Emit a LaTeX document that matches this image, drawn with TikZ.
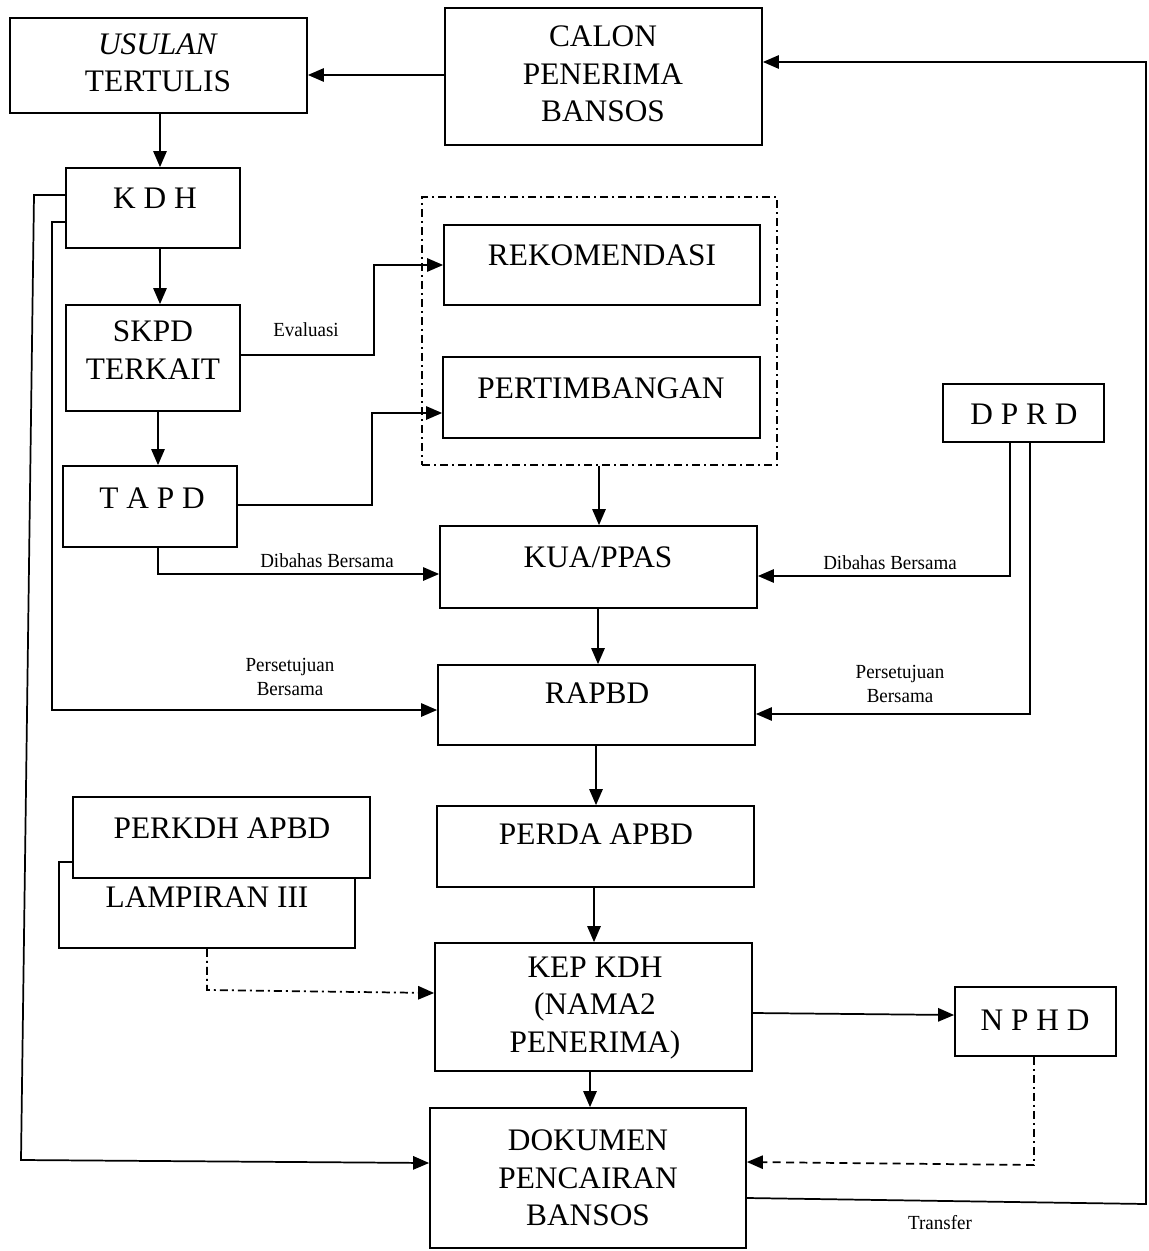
\documentclass[tikz,border=0pt]{standalone}
\usepackage{fontspec}
\setmainfont{Liberation Serif}
\newfontfamily\narrowfont[FakeStretch=0.95]{Liberation Serif}
\usetikzlibrary{arrows.meta,fit}
\begin{document}
\begin{tikzpicture}[x=0.75pt,y=-0.75pt,
  box/.style={draw,line width=1.3pt,inner sep=0pt,fill=white},
  txt/.style={font=\fontsize{23.5}{28}\selectfont,align=center,inner sep=0pt},
  lbl/.style={font=\narrowfont\fontsize{15}{18}\selectfont,align=center,inner sep=0pt},
  conn/.style={line width=1.3pt},
  arr/.style={conn,-{Triangle[length=12pt,width=10pt]}},
  dashdot/.style={line width=1.3pt,dash pattern=on 6pt off 3pt on 1.5pt off 3pt},
  dsh/.style={line width=1.3pt,dash pattern=on 6pt off 4pt}]
\useasboundingbox[fill=white] (0,0) rectangle (1148,1251);

% boxes
\node[box,fit={(10,18) (307,113)}] (usulan) {};
\node[box,fit={(445,8) (762,145)}] (calon) {};
\node[box,fit={(66,168) (240,248)}] (kdh) {};
\node[box,fit={(66,305) (240,411)}] (skpd) {};
\node[box,fit={(63,466) (237,547)}] (tapd) {};
\node[draw,dashdot,inner sep=0pt,fit={(422,197) (777,465)}] (group) {};
\node[box,fit={(444,225) (760,305)}] (rek) {};
\node[box,fit={(443,357) (760,438)}] (pert) {};
\node[box,fit={(943,384) (1104,442)}] (dprd) {};
\node[box,fit={(440,526) (757,608)}] (kua) {};
\node[box,fit={(438,665) (755,745)}] (rapbd) {};
\node[box,fit={(437,806) (754,887)}] (perda) {};
\node[box,fit={(59,862) (355,948)}] (lamp) {};
\node[box,fit={(73,797) (370,878)}] (perkdh) {};
\node[box,fit={(435,943) (752,1071)}] (kep) {};
\node[box,fit={(955,987) (1116,1056)}] (nphd) {};
\node[box,fit={(430,1108) (746,1248)}] (dok) {};

% texts
\node[txt] (usulan-t) at (158,63) {\textit{USULAN}\\TERTULIS};
\node[txt] (calon-t) at (603,74) {CALON\\PENERIMA\\BANSOS};
\node[txt] (kdh-t) at (155,198) {K D H};
\node[txt] (skpd-t) at (153,350) {SKPD\\TERKAIT};
\node[txt] (tapd-t) at (152,498) {T A P D};
\node[txt] (rek-t) at (602,255) {REKOMENDASI};
\node[txt] (pert-t) at (601,388) {PERTIMBANGAN};
\node[txt] (dprd-t) at (1024,414) {D P R D};
\node[txt] (kua-t) at (598,557) {KUA/PPAS};
\node[txt] (rapbd-t) at (597,693) {RAPBD};
\node[txt] (perda-t) at (596,834) {PERDA APBD};
\node[txt] (perkdh-t) at (222,828) {PERKDH APBD};
\node[txt] (lamp-t) at (207,897) {LAMPIRAN III};
\node[txt] (kep-t) at (595,1008) {KEP KDH\\(NAMA2\\PENERIMA)};
\node[txt] (nphd-t) at (1035,1020) {N P H D};
\node[txt] (dok-t) at (588,1178) {DOKUMEN\\PENCAIRAN\\BANSOS};

% labels
\node[lbl] (l-eval) at (306,330) {Evaluasi};
\node[lbl] (l-dib1) at (327,561) {Dibahas Bersama};
\node[lbl] (l-dib2) at (890,563) {Dibahas Bersama};
\node[lbl] (l-per1) at (290,677) {Persetujuan\\Bersama};
\node[lbl] (l-per2) at (900,684) {Persetujuan\\Bersama};
\node[lbl] (l-trans) at (940,1223) {Transfer};

% connectors
\draw[arr] (calon.west |- 0,75) -- (usulan.east |- 0,75);
\draw[arr] (usulan.south -| 160,0) -- (kdh.north -| 160,0);
\draw[arr] (kdh.south -| 160,0) -- (skpd.north -| 160,0);
\draw[arr] (skpd.south -| 158,0) -- (tapd.north -| 158,0);
\draw[arr] (skpd.east |- 0,355) -- (374,355) -- (374,265) -- (rek.west |- 0,265);
\draw[arr] (tapd.east |- 0,505) -- (372,505) -- (372,413) -- (pert.west |- 0,413);
\draw[arr] (group.south -| 599,0) -- (kua.north -| 599,0);
\draw[arr] (tapd.south -| 158,0) -- (158,574) -- (kua.west |- 0,574);
\draw[arr] (dprd.south -| 1010,0) -- (1010,576) -- (kua.east |- 0,576);
\draw[arr] (dprd.south -| 1030,0) -- (1030,714) -- (rapbd.east |- 0,714);
\draw[arr] (kua.south -| 598,0) -- (rapbd.north -| 598,0);
\draw[arr] (kdh.west |- 0,222) -- (52,222) -- (52,710) -- (rapbd.west |- 0,710);
\draw[arr] (kdh.west |- 0,195) -- (34,195) -- (21,1160) -- (dok.west |- 0,1163);
\draw[arr] (rapbd.south -| 596,0) -- (perda.north -| 596,0);
\draw[arr] (perda.south -| 594,0) -- (kep.north -| 594,0);
\draw[dashdot,-{Triangle[length=12pt,width=10pt]}] (lamp.south -| 207,0) -- (207,990) -- (kep.west |- 0,993);
\draw[arr] (kep.east |- 0,1013) -- (nphd.west |- 0,1015);
\draw[arr] (kep.south -| 590,0) -- (dok.north -| 590,0);
\draw[dashdot] (nphd.south -| 1034,0) -- (1034,1165);
\draw[dsh,-{Triangle[length=12pt,width=10pt]}] (1034,1165) -- (dok.east |- 0,1162);
\draw[arr] (dok.east |- 0,1198) -- (1146,1204) -- (1146,62) -- (calon.east |- 0,62);
\end{tikzpicture}
\end{document}
